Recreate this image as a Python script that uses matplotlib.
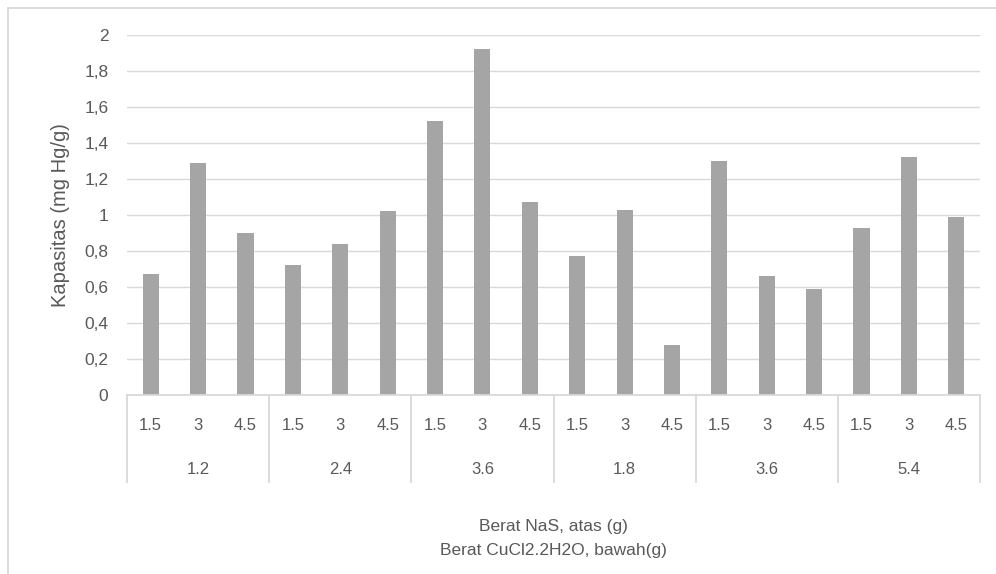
import matplotlib.pyplot as plt
from matplotlib.transforms import blended_transform_factory
from matplotlib.lines import Line2D

plt.rcParams['font.family'] = ['Liberation Sans', 'DejaVu Sans']

# data
groups = ['1.2', '2.4', '3.6', '1.8', '3.6', '5.4']
sub_labels = ['1.5', '3', '4.5']
values = [
    [0.67, 1.29, 0.90],
    [0.72, 0.84, 1.02],
    [1.52, 1.92, 1.07],
    [0.77, 1.03, 0.28],
    [1.30, 0.66, 0.59],
    [0.93, 1.32, 0.99],
]
y_ticks = [0, 0.2, 0.4, 0.6, 0.8, 1, 1.2, 1.4, 1.6, 1.8, 2]
y_tick_labels = ['0', '0,2', '0,4', '0,6', '0,8', '1', '1,2', '1,4', '1,6', '1,8', '2']

W, H = 996, 574
txt = '#595959'
grid = '#d9d9d9'

fig = plt.figure(figsize=(W / 100, H / 100), dpi=100)
ax = fig.add_axes([127 / W, (H - 395) / H, (980 - 127) / W, (395 - 35) / H])

flat = [v for g in values for v in g]
xs = list(range(len(flat)))
ax.bar(xs, flat, width=0.34, color='#a5a5a5', zorder=3)

ax.set_xlim(-0.5, len(flat) - 0.5)
ax.set_ylim(0, 2)
ax.set_yticks(y_ticks)
ax.set_yticklabels(y_tick_labels, color=txt, fontsize=12.5)
ax.tick_params(axis='y', length=0, pad=13.5)
ax.set_xticks([])
ax.yaxis.grid(True, color=grid, linewidth=1)
for s in ['top', 'right', 'left']:
    ax.spines[s].set_visible(False)
ax.spines['bottom'].set_color(grid)
ax.spines['bottom'].set_linewidth(1.3)
ax.spines['bottom'].set_zorder(4)

fig.text(60 / W, (H - 215) / H, 'Kapasitas (mg Hg/g)', rotation=90, ha='center',
         va='center', color=txt, fontsize=14.5)

# multi-level category labels
tr = blended_transform_factory(ax.transData, fig.transFigure)
for i, x in enumerate(xs):
    ax.text(x, (H - 425) / H, sub_labels[i % 3], transform=tr, ha='center',
            va='center', color=txt, fontsize=12)
for gi, g in enumerate(groups):
    ax.text(gi * 3 + 1, (H - 470) / H, g, transform=tr, ha='center',
            va='center', color=txt, fontsize=12)
for gi in range(len(groups) + 1):
    xb = gi * 3 - 0.5
    ax.add_line(Line2D([xb, xb], [(H - 395) / H, (H - 482) / H], transform=tr,
                       color=grid, linewidth=1.3, clip_on=False))

fig.text(553 / W, (H - 527) / H, 'Berat NaS, atas (g)', ha='center',
         va='center', color=txt, fontsize=12.5)
fig.text(553 / W, (H - 551) / H, 'Berat CuCl2.2H2O, bawah(g)', ha='center',
         va='center', color=txt, fontsize=12.5)

# chart border
fig.add_artist(Line2D([8 / W, 8 / W], [0, (H - 8) / H], transform=fig.transFigure,
                      color=grid, linewidth=1.3))
fig.add_artist(Line2D([8 / W, 1], [(H - 8) / H, (H - 8) / H], transform=fig.transFigure,
                      color=grid, linewidth=1.3))

fig.savefig('out.png', dpi=100)
